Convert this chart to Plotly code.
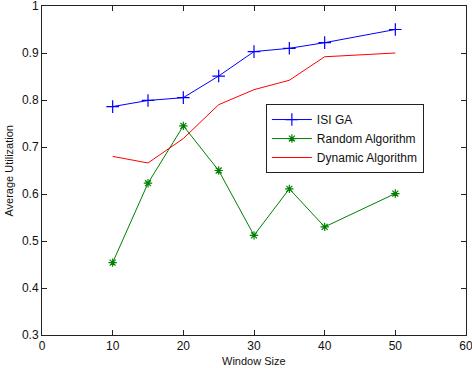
import plotly.graph_objects as go

window_size = [10, 15, 20, 25, 30, 35, 40, 50]
isi_ga = [0.786, 0.799, 0.805, 0.851, 0.903, 0.910, 0.922, 0.950]
random_alg = [0.454, 0.623, 0.745, 0.650, 0.512, 0.611, 0.530, 0.601]
dynamic_alg = [0.680, 0.666, 0.718, 0.790, 0.822, 0.842, 0.892, 0.900]

x_ticks = [0, 10, 20, 30, 40, 50, 60]
y_ticks = [0.3, 0.4, 0.5, 0.6, 0.7, 0.8, 0.9, 1.0]
y_labels = ["0.3", "0.4", "0.5", "0.6", "0.7", "0.8", "0.9", "1"]

fig = go.Figure()
fig.add_trace(go.Scatter(x=window_size, y=isi_ga, name="ISI GA", mode="lines+markers",
                         line=dict(color="#0000ff", width=1),
                         marker=dict(symbol="cross-thin", size=9, line=dict(color="#0000ff", width=1.2))))
fig.add_trace(go.Scatter(x=window_size, y=random_alg, name="Random Algorithm", mode="lines+markers",
                         line=dict(color="#008000", width=1),
                         marker=dict(symbol="asterisk", size=7, line=dict(color="#008000", width=1.2))))
fig.add_trace(go.Scatter(x=window_size, y=dynamic_alg, name="Dynamic Algorithm", mode="lines",
                         line=dict(color="#ff0000", width=1)))

axis_common = dict(showline=True, linecolor="#222", linewidth=1, mirror="ticks",
                   ticks="inside", ticklen=5, tickcolor="#222", showgrid=False, zeroline=False,
                   automargin=False, ticklabeloverflow="allow",
                   tickfont=dict(family="Liberation Sans, Arial", size=12, color="#111"))

fig.update_layout(
    width=472, height=368,
    margin=dict(l=42, r=6, t=6, b=33),
    paper_bgcolor="white", plot_bgcolor="white",
    font=dict(family="Liberation Sans, Arial", size=11, color="#111"),
    showlegend=True,
    legend=dict(x=0.528, y=0.702, xanchor="left", yanchor="top",
                bordercolor="#222", borderwidth=1, bgcolor="white",
                font=dict(size=12), tracegroupgap=0, itemwidth=40),
    xaxis=dict(range=[0, 60], tickvals=x_ticks, **axis_common),
    yaxis=dict(range=[0.3, 1.0], tickvals=y_ticks, ticktext=y_labels, **axis_common),
    annotations=[
        dict(text="Window Size", xref="paper", yref="paper", x=0.5, y=-0.078,
             xanchor="center", yanchor="middle", showarrow=False, font=dict(size=11)),
        dict(text="Average Utilization", xref="paper", yref="paper", x=-0.08, y=0.5,
             xanchor="center", yanchor="middle", textangle=-90, showarrow=False, font=dict(size=11)),
    ],
)

fig.write_html("out.html", config={"displayModeBar": False},
               post_script="document.body.style.margin='0px';")
